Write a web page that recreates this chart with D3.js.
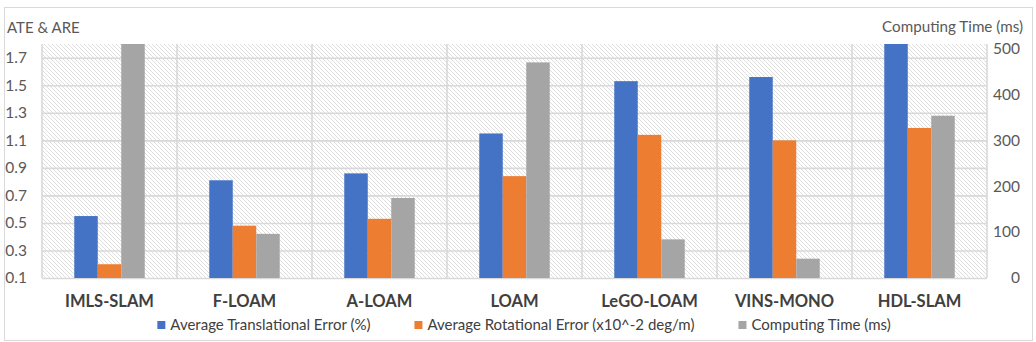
<!DOCTYPE html>
<html>
<head>
<meta charset="utf-8">
<script src="https://cdn.jsdelivr.net/npm/d3@7"></script>
<style>
  body { margin: 0; background: #fff; }
  text { font-family: Lato, "Open Sans", sans-serif; }
</style>
</head>
<body>
<script>
// chart data
var categories = ["IMLS-SLAM", "F-LOAM", "A-LOAM", "LOAM", "LeGO-LOAM", "VINS-MONO", "HDL-SLAM"];
var ateValues = [0.55, 0.81, 0.86, 1.15, 1.53, 1.56, 2.0]; // HDL-SLAM runs off the top
var areValues = [0.20, 0.48, 0.53, 0.84, 1.14, 1.10, 1.19];
var timeValues = [1250, 96, 174, 469, 84, 42, 353]; // IMLS-SLAM runs off the top
var seriesNames = ["Average Translational Error (%)", "Average Rotational Error (x10^-2 deg/m)", "Computing Time (ms)"];
var leftTicks = [0.1, 0.3, 0.5, 0.7, 0.9, 1.1, 1.3, 1.5, 1.7];
var rightTicks = [0, 100, 200, 300, 400, 500];

var colors = ["#4472C4", "#ED7D31", "#A5A5A5"];

var w = 1036, h = 342;
var plot = {left: 42, right: 987, top: 44, bottom: 278};

var svg = d3.select("body").append("svg")
  .attr("width", w)
  .attr("height", h);

// outer chart border
svg.append("rect")
  .attr("x", 4.5).attr("y", 7.5)
  .attr("width", 1028).attr("height", 333)
  .attr("fill", "#fff")
  .attr("stroke", "#d9d9d9");

// hatch fill of the plot area
var defs = svg.append("defs");
var pat = defs.append("pattern")
  .attr("id", "hatch")
  .attr("patternUnits", "userSpaceOnUse")
  .attr("width", 4).attr("height", 4);
pat.append("path")
  .attr("d", "M-1,-1 L5,5 M3,-1 L5,1 M-1,3 L1,5")
  .attr("stroke", "#dadada")
  .attr("stroke-width", 0.9);

defs.append("clipPath").attr("id", "plotclip")
  .append("rect")
  .attr("x", plot.left).attr("y", plot.top)
  .attr("width", plot.right - plot.left)
  .attr("height", plot.bottom - plot.top);

svg.append("rect")
  .attr("x", plot.left).attr("y", plot.top)
  .attr("width", plot.right - plot.left)
  .attr("height", plot.bottom - plot.top)
  .attr("fill", "url(#hatch)");

// scales
var x = d3.scaleBand().domain(categories).range([plot.left, plot.right]);
var bw = x.bandwidth();
var xs = d3.scaleBand().domain([0, 1, 2]).range([bw * 0.239, bw * 0.761]);
var yL = d3.scaleLinear().domain([0.1, 1.8]).range([plot.bottom, plot.top]);
var yR = d3.scaleLinear().domain([0, 509]).range([plot.bottom, plot.top]);

// horizontal gridlines
svg.append("g")
  .attr("transform", "translate(" + plot.left + ",0)")
  .call(d3.axisLeft(yL).tickValues(leftTicks).tickSize(-(plot.right - plot.left)).tickFormat(""))
  .call(function(g){ g.select(".domain").remove(); })
  .selectAll("line").attr("stroke", "#d9d9d9").attr("stroke-width", 1.6);

// vertical gridlines on category boundaries
svg.append("g").selectAll("line")
  .data(categories.concat(["end"]))
  .enter().append("line")
  .attr("x1", function(d, i){ return plot.left + i * bw; })
  .attr("x2", function(d, i){ return plot.left + i * bw; })
  .attr("y1", plot.top)
  .attr("y2", plot.bottom)
  .attr("stroke", "#d9d9d9")
  .attr("stroke-width", 1.6);

// bars
var rows = categories.map(function(c, i){
  return [
    {cat: c, s: 0, y: yL(ateValues[i])},
    {cat: c, s: 1, y: yL(areValues[i])},
    {cat: c, s: 2, y: yR(timeValues[i])}
  ];
});

svg.append("g")
  .attr("clip-path", "url(#plotclip)")
  .selectAll("g")
  .data(rows)
  .enter().append("g")
  .attr("transform", function(d){ return "translate(" + x(d[0].cat) + ",0)"; })
  .selectAll("rect")
  .data(function(d){ return d; })
  .enter().append("rect")
  .attr("x", function(d){ return xs(d.s); })
  .attr("width", xs.bandwidth())
  .attr("y", function(d){ return d.y; })
  .attr("height", function(d){ return plot.bottom - d.y; })
  .attr("fill", function(d){ return colors[d.s]; });

// left axis labels
var axL = svg.append("g")
  .attr("transform", "translate(" + plot.left + ",0)")
  .call(d3.axisLeft(yL).tickValues(leftTicks).tickSize(0).tickPadding(15).tickFormat(d3.format(".1f")));
axL.select(".domain").remove();

// right axis labels, right aligned like the picture
var axR = svg.append("g")
  .attr("transform", "translate(" + plot.right + ",0)")
  .call(d3.axisRight(yR).tickValues(rightTicks).tickSize(0).tickPadding(33));
axR.select(".domain").remove();
axR.selectAll("text").attr("text-anchor", "end");

svg.selectAll(".tick text")
  .attr("font-family", "Lato, sans-serif")
  .attr("font-size", 15.5)
  .attr("fill", "#595959");

// axis titles
svg.append("text")
  .attr("x", 7).attr("y", 33)
  .attr("font-size", 15).attr("fill", "#595959")
  .text("ATE & ARE");
svg.append("text")
  .attr("x", 1023).attr("y", 32)
  .attr("text-anchor", "end")
  .attr("font-size", 15.2).attr("fill", "#595959")
  .text("Computing Time (ms)");

// category labels
svg.append("g").selectAll("text")
  .data(categories)
  .enter().append("text")
  .attr("x", function(d){ return x(d) + bw / 2; })
  .attr("y", 307)
  .attr("text-anchor", "middle")
  .attr("font-size", 16.5)
  .attr("font-weight", "bold")
  .attr("fill", "#404040")
  .text(function(d){ return d; });

// legend, laid out left to right and centred
var legend = svg.append("g");
var items = legend.selectAll("g")
  .data(seriesNames)
  .enter().append("g");
items.append("rect")
  .attr("width", 8).attr("height", 8)
  .attr("y", 321)
  .attr("fill", function(d, i){ return colors[i]; });
items.append("text")
  .attr("x", 13).attr("y", 330)
  .attr("font-size", 15).attr("fill", "#404040")
  .text(function(d){ return d; });

var pos = 0;
items.each(function(){
  var g = d3.select(this);
  g.attr("transform", "translate(" + pos + ",0)");
  pos += 13 + g.select("text").node().getComputedTextLength() + 44;
});
var total = pos - 44;
legend.attr("transform", "translate(" + (524 - total / 2) + ",0)");
</script>
</body>
</html>
